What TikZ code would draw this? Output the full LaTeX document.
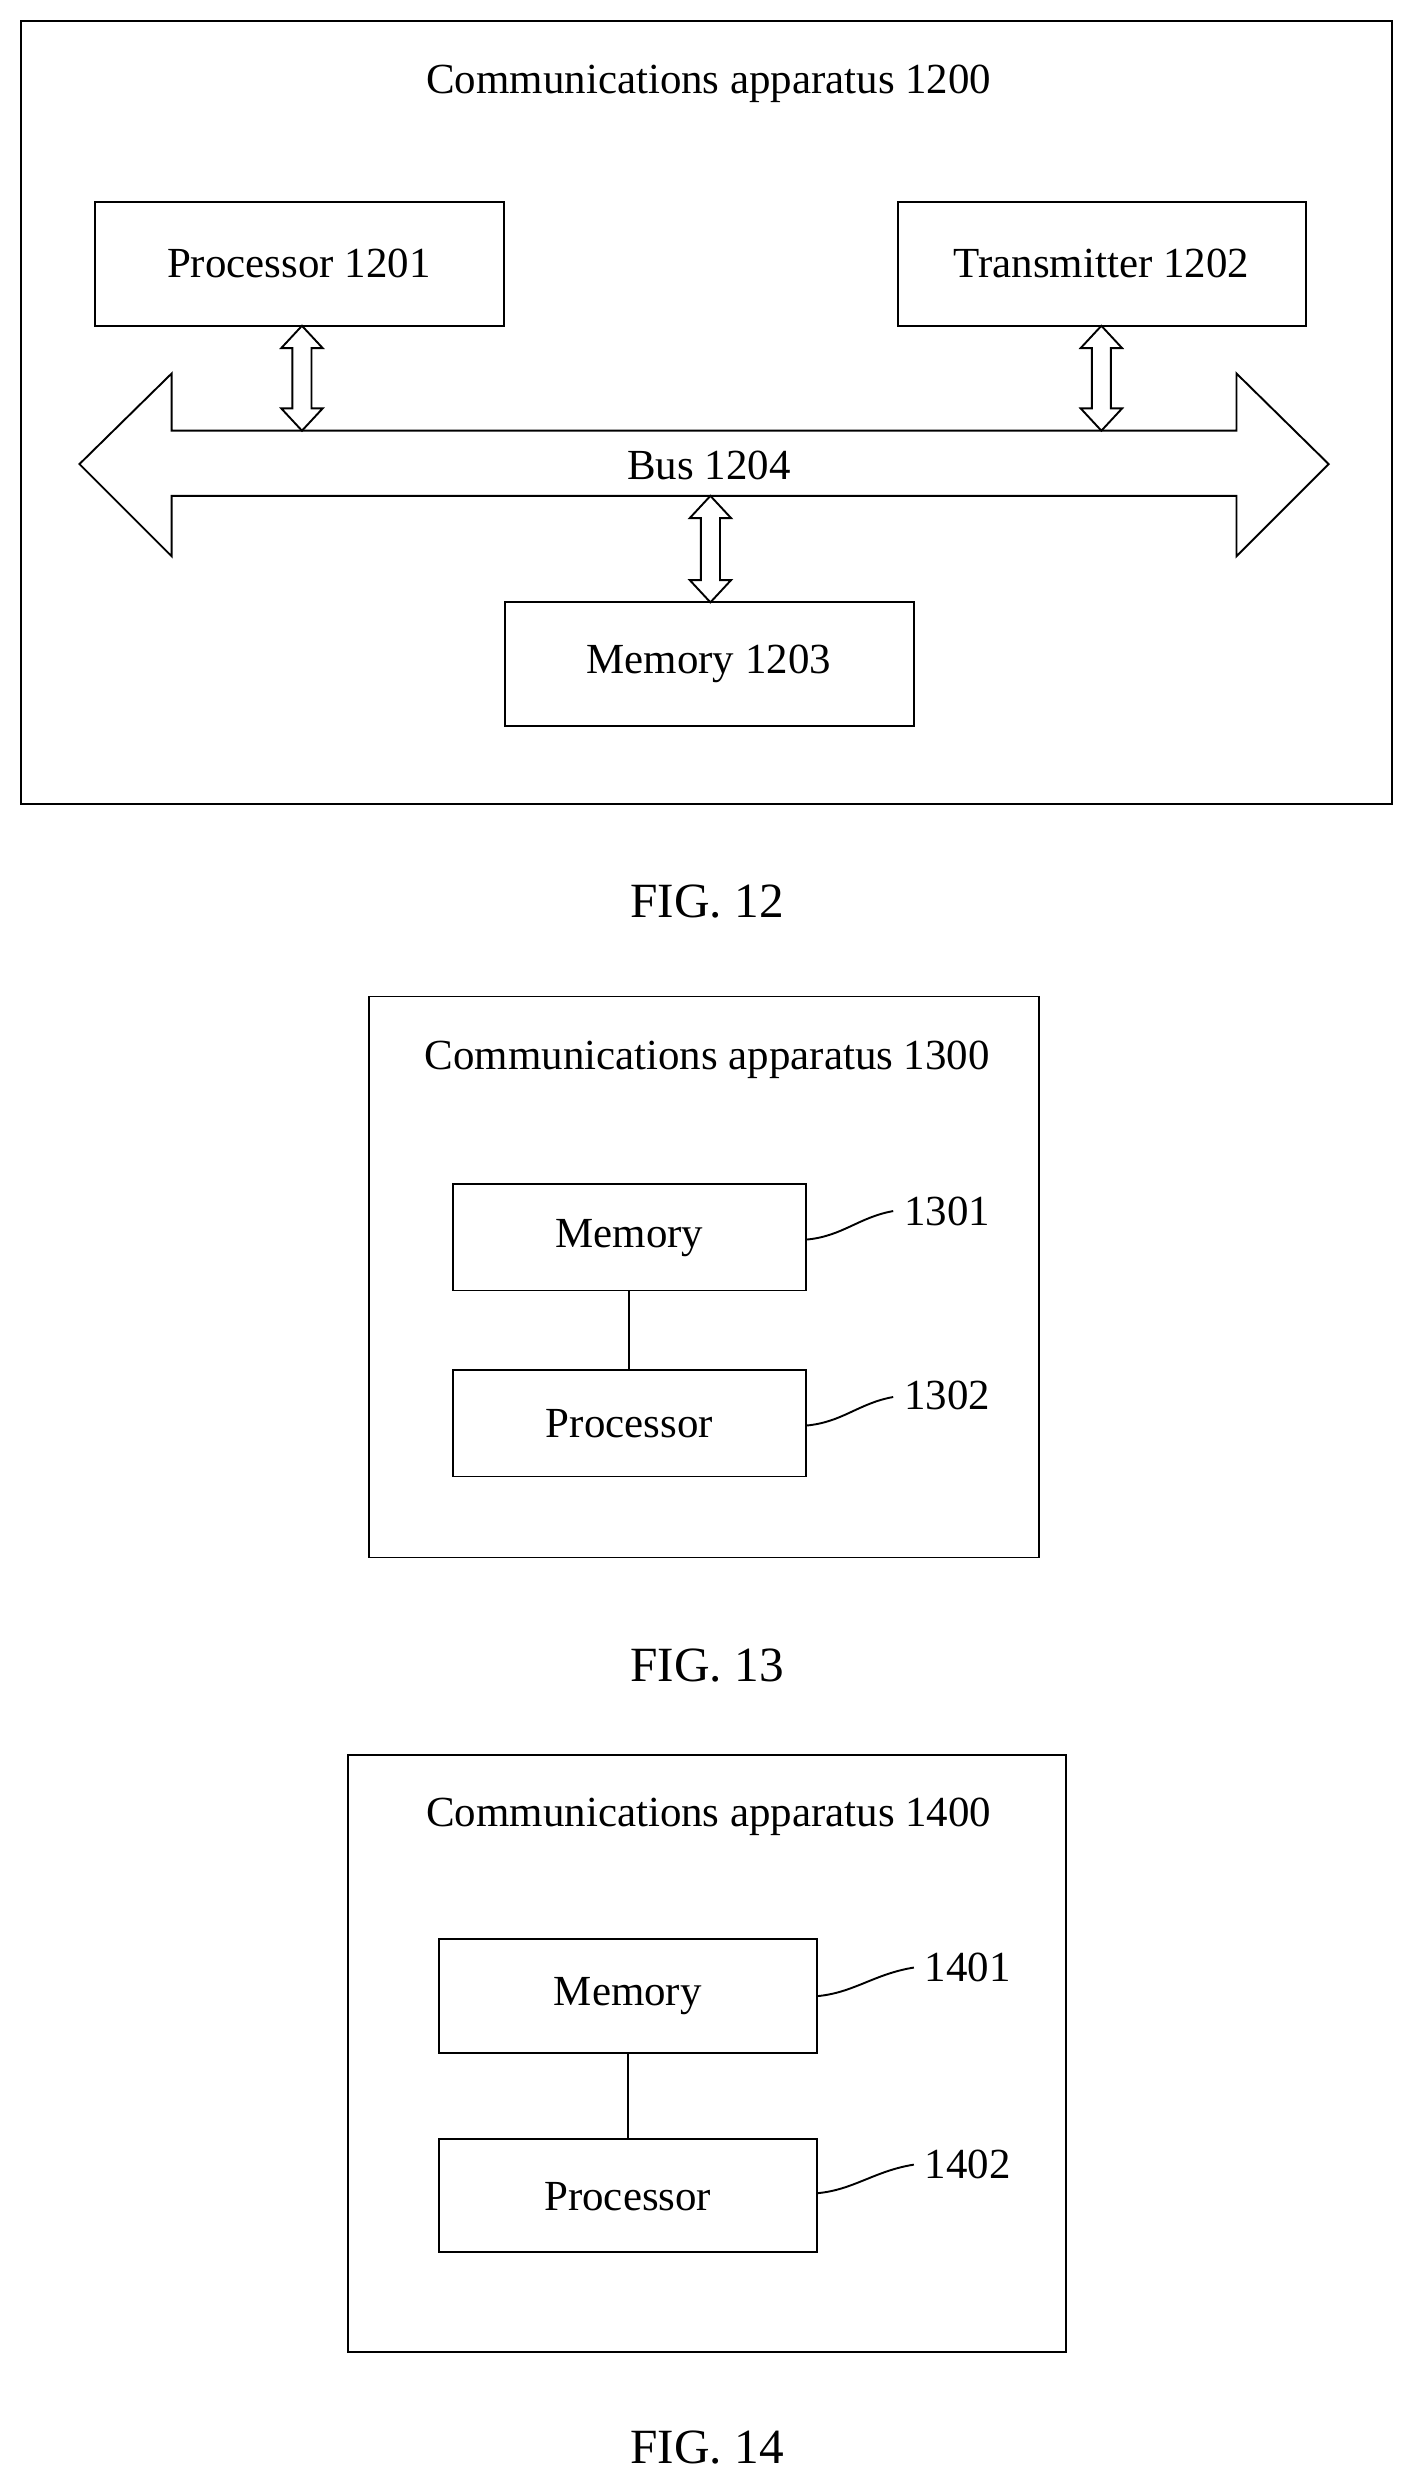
\documentclass[tikz,border=0pt]{standalone}
\usepackage{fontspec}
\setmainfont{Liberation Serif}
\newcommand\vdarr[3]{%
 \draw[fill=white,line width=0.6pt] (#1,#2) -- (#1+13,#2+14) -- (#1+6,#2+14) -- (#1+6,#3-14) -- (#1+13,#3-14) -- (#1,#3) -- (#1-13,#3-14) -- (#1-6,#3-14) -- (#1-6,#2+14) -- (#1-13,#2+14) -- cycle;}
\begin{document}
\begin{tikzpicture}[x=0.5pt,y=-0.5pt,
 box/.style={draw,line width=0.6pt,minimum width=0,inner sep=0},
 txt/.style={font=\fontsize{13.5}{16}\selectfont},
 fig/.style={font=\fontsize{15.5}{18}\selectfont}]
\useasboundingbox (0,0) rectangle (890,1568);
% FIG 12
\draw[line width=0.6pt] (13,13) rectangle (876,506);
\node[txt] (t12) at (446,53) {Communications apparatus 1200};
\draw[line width=0.6pt] (60,127) rectangle (317,205);
\node[txt] (p1201) at (188,166) {Processor 1201};
\draw[line width=0.6pt] (565,127) rectangle (822,205);
\node[txt] (t1202) at (693,166) {Transmitter 1202};
\draw[line width=0.6pt] (318,379) rectangle (575,457);
\node[txt] (m1203) at (446,418) {Memory 1203};
\draw[line width=0.6pt,fill=white] (50,292) -- (108,235) -- (108,271) -- (778,271) -- (778,235) -- (836,292) -- (778,350) -- (778,312) -- (108,312) -- (108,350) -- cycle;
\node[txt] (bus) at (446,293) {Bus 1204};
\vdarr{190}{205}{271}
\vdarr{693}{205}{271}
\vdarr{447}{312}{379}
\node[fig] (f12) at (445,567) {FIG. 12};
% FIG 13
\draw[line width=0.6pt] (232,627) rectangle (654,980);
\node[txt] (t13) at (445,667) {Communications apparatus 1300};
\draw[line width=0.6pt] (285,745) rectangle (507,812);
\node[txt] (m13) at (396,779) {Memory};
\draw[line width=0.6pt] (285,862) rectangle (507,929);
\node[txt] (p13) at (396,896) {Processor};
\draw[line width=0.6pt] (396,812) -- (396,862);
\draw[line width=0.6pt] (507,780) .. controls (530,778) and (540,766) .. (562,762);
\node[txt] (l1301) at (596,762) {1301};
\draw[line width=0.6pt] (507,897) .. controls (530,895) and (540,883) .. (562,879);
\node[txt] (l1302) at (596,878) {1302};
\node[fig] (f13) at (445,1048) {FIG. 13};
% FIG 14
\draw[line width=0.6pt] (219,1104) rectangle (671,1480);
\node[txt] (t14) at (446,1143) {Communications apparatus 1400};
\draw[line width=0.6pt] (276,1220) rectangle (514,1292);
\node[txt] (m14) at (395,1256) {Memory};
\draw[line width=0.6pt] (276,1346) rectangle (514,1417);
\node[txt] (p14) at (395,1382) {Processor};
\draw[line width=0.6pt] (395,1292) -- (395,1346);
\draw[line width=0.6pt] (514,1256) .. controls (537,1254) and (550,1242) .. (575,1238);
\node[txt] (l1401) at (609,1238) {1401};
\draw[line width=0.6pt] (514,1380) .. controls (537,1378) and (550,1366) .. (575,1362);
\node[txt] (l1402) at (609,1362) {1402};
\node[fig] (f14) at (445,1540) {FIG. 14};
\end{tikzpicture}
\end{document}
